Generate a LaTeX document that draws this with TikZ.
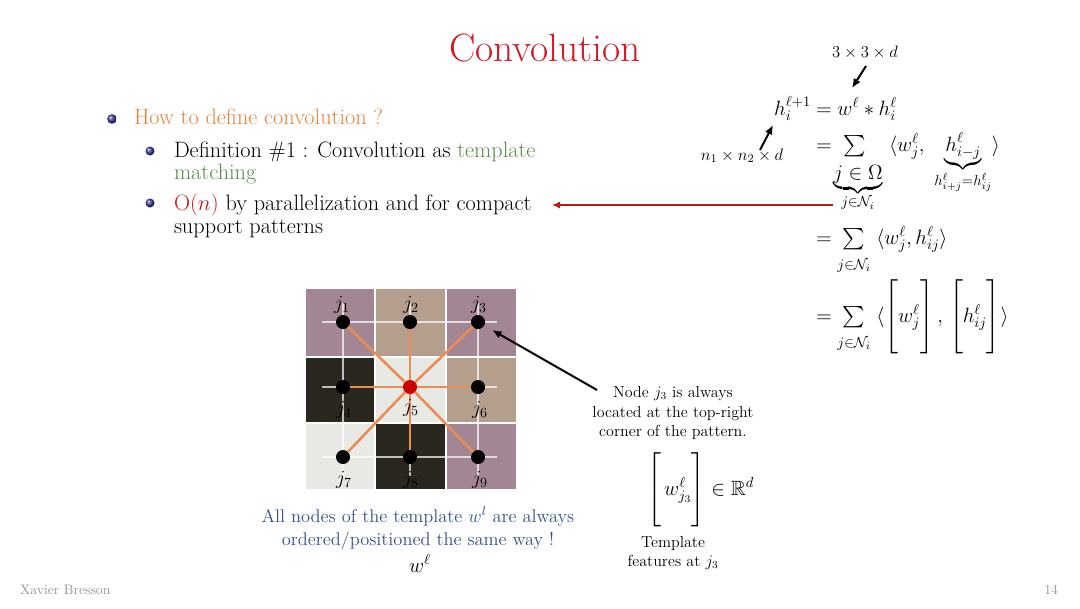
\RequirePackage{fix-cm}
\documentclass[tikz,border=0pt]{standalone}
\usepackage{amsmath,amssymb}
\DeclareFontFamily{OMX}{cmexs}{}
\DeclareFontShape{OMX}{cmexs}{m}{n}{<->cmex10}{}
\newcommand{\SumSym}{\mathop{\vcenter{\hbox{\fontsize{16}{16}\usefont{OMX}{cmexs}{m}{n}\char"50}}}}
\newcommand{\bstrut}{\rule[-25.1pt]{0pt}{58pt}}
\newcommand{\substrut}{\rule{0pt}{12.5pt}}
\usetikzlibrary{arrows.meta}
\definecolor{titlered}{RGB}{205,30,40}
\definecolor{howorange}{RGB}{230,132,62}
\definecolor{tgreen}{RGB}{88,140,72}
\definecolor{ored}{RGB}{195,25,30}
\definecolor{arrowred}{RGB}{185,25,25}
\definecolor{bluetext}{RGB}{50,80,140}
\definecolor{ballblue}{RGB}{65,65,165}
\definecolor{mauvecell}{RGB}{163,134,148}
\definecolor{tancell}{RGB}{180,158,142}
\definecolor{darkcell}{RGB}{42,40,30}
\definecolor{lightcell}{RGB}{232,232,228}
\definecolor{spokeorange}{RGB}{236,140,85}
\definecolor{nodered}{RGB}{205,0,0}
\definecolor{footgray}{RGB}{150,150,150}
\begin{document}
\begin{tikzpicture}[x=0.75pt,y=-0.75pt,
  every node/.style={inner sep=0pt,outer sep=0pt},
  titletxt/.style={font=\fontsize{29.6}{33}\selectfont,text=titlered,anchor=base},
  bodytxt/.style={font=\fontsize{16.7}{20}\selectfont,anchor=base west},
  eqn/.style={font=\fontsize{15.5}{18}\selectfont},
  smallmath/.style={font=\fontsize{12.5}{15}\selectfont,anchor=base},
  captxt/.style={font=\fontsize{12}{14}\selectfont,anchor=base},
  bluetxt/.style={font=\fontsize{13.8}{16}\selectfont,text=bluetext,anchor=base},
  jlab/.style={font=\fontsize{15}{18}\selectfont},
  gnode/.style={circle,fill=black,minimum size=10.5pt},
  cnode/.style={circle,fill=nodered,minimum size=10.5pt},
  spoke/.style={draw=spokeorange,line width=1.9pt},
  blackarrow/.style={line width=1.5pt,-{Latex[length=7pt,width=6pt]}},
  redarrow/.style={draw=arrowred,line width=1.8pt,-{Latex[length=6pt,width=5.5pt]}},
  cellbox/.style={draw=white,line width=1.2pt},
  nodeline/.style={draw=white,draw opacity=0.7,line width=1.1pt},
  footer/.style={font=\fontsize{10.3}{12}\selectfont,text=footgray}
]
\useasboundingbox[fill=white] (0,0) rectangle (1080,608);

% title
\node[titletxt] (title) at (545,61) {Convolution};

% bullets
\shade[ball color=ballblue] (112,119) circle[radius=4.8];
\shade[ball color=ballblue] (150,151) circle[radius=4.5];
\shade[ball color=ballblue] (150,203) circle[radius=4.5];
\node[bodytxt,text=howorange] (b1) at (134,124) {How to define convolution ?};
\node[bodytxt] (b2a) at (174,157) {Definition \#1 : Convolution as \textcolor{tgreen}{template}};
\node[bodytxt,text=tgreen] (b2b) at (174,179) {matching};
\node[bodytxt] (b3a) at (174,210) {\textcolor{ored}{O($n$)} by parallelization and for compact};
\node[bodytxt] (b3b) at (174,233) {support patterns};

% red arrow
\coordinate (rs) at (833,205);
\coordinate (re) at (552,205);
\draw[redarrow] (rs) -- (re);

% equations
\node[smallmath] (dimw) at (865,57) {$3\times 3\times d$};
\node[smallmath] (dimh) at (742,160) {$n_1\times n_2\times d$};
\node[eqn,anchor=base east] (lhs) at (811,115) {$h_i^{\ell+1}$};
\node[eqn,anchor=base west] (eq1) at (816,115) {$= w^\ell * h_i^\ell$};
% line 2
\node[eqn,anchor=base west] (eq2eq) at (816,151) {$=$};
\node[eqn] (sig2) at (855,146) {$\SumSym$};
\node[eqn,anchor=base] (om2) at (858,179) {$\underbrace{j\in\Omega}_{j\in\mathcal{N}_i}$};
\node[eqn,anchor=base west] (eq2b) at (889,151) {$\langle w_j^\ell,\ \underbrace{h_{i-j}^\ell}_{h_{i+j}^\ell=h_{ij}^\ell}\rangle$};
% lines 3 and 4
\node[eqn,anchor=base west] (eq3) at (816,244) {$= \SumSym\limits_{\substrut j\in\mathcal{N}_i}\; \langle w_j^\ell, h_{ij}^\ell\rangle$};
\node[eqn,anchor=base west] (eq4) at (816,322) {$= \SumSym\limits_{\substrut j\in\mathcal{N}_i}\; \langle \left[\bstrut w_j^\ell\right],\hspace{2pt}\left[\bstrut h_{ij}^\ell\right] \rangle$};
\coordinate (a1s) at (866,66);
\coordinate (a1e) at (852,88);
\draw[blackarrow] (a1s) -- (a1e);
\coordinate (a2s) at (760,150);
\coordinate (a2e) at (773,125);
\draw[blackarrow] (a2s) -- (a2e);

% grid image
\fill[gray!20] (305,288) rectangle (517,490);
\filldraw[cellbox,fill=mauvecell] (305,288) rectangle (375,357);
\filldraw[cellbox,fill=tancell] (375,288) rectangle (446,357);
\filldraw[cellbox,fill=mauvecell] (446,288) rectangle (517,357);
\filldraw[cellbox,fill=darkcell] (305,357) rectangle (375,423);
\filldraw[cellbox,fill=lightcell] (375,357) rectangle (446,423);
\filldraw[cellbox,fill=tancell] (446,357) rectangle (517,423);
\filldraw[cellbox,fill=lightcell] (305,423) rectangle (375,490);
\filldraw[cellbox,fill=darkcell] (375,423) rectangle (446,490);
\filldraw[cellbox,fill=mauvecell] (446,423) rectangle (517,490);
\draw[nodeline] (322,322) -- (497,322);
\draw[nodeline] (322,387) -- (497,387);
\draw[nodeline] (322,457) -- (497,457);
\draw[nodeline] (343,303) -- (343,476);
\draw[nodeline] (410,303) -- (410,476);
\draw[nodeline] (478,303) -- (478,476);

\node[gnode] (n1) at (343,322) {};
\node[gnode] (n2) at (410,322) {};
\node[gnode] (n3) at (478,322) {};
\node[gnode] (n4) at (343,387) {};
\node[cnode] (n5) at (410,387) {};
\node[gnode] (n6) at (478,387) {};
\node[gnode] (n7) at (343,457) {};
\node[gnode] (n8) at (410,457) {};
\node[gnode] (n9) at (478,457) {};
\foreach \k in {1,2,3,4,6,7,8,9} \draw[spoke] (n5) -- (n\k);

\node[jlab] (l1) at (342,305) {$j_1$};
\node[jlab] (l2) at (411,305) {$j_2$};
\node[jlab] (l3) at (479,305) {$j_3$};
\node[jlab] (l4) at (344,410) {$j_4$};
\node[jlab] (l5) at (411,408) {$j_5$};
\node[jlab] (l6) at (480,410) {$j_6$};
\node[jlab] (l7) at (344,480) {$j_7$};
\node[jlab] (l8) at (411,480) {$j_8$};
\node[jlab] (l9) at (480,480) {$j_9$};

% j3 arrow and caption
\coordinate (ja) at (597,390);
\draw[blackarrow,shorten >=7pt] (ja) -- (n3);
\node[captxt] (cap1) at (673,397) {Node $j_3$ is always};
\node[captxt] (cap2) at (673,417) {located at the top-right};
\node[captxt] (cap3) at (673,436) {corner of the pattern.};

% template vector
\node[eqn,anchor=base west] (wmat) at (647,495) {$\left[\bstrut\, w_{j_3}^\ell\right] \in \mathbb{R}^d$};
\node[captxt] (tf1) at (673,547) {Template};
\node[captxt] (tf2) at (673,566) {features at $j_3$};

% blue text
\node[bluetxt] (bl1) at (418,522) {All nodes of the template $w^l$ are always};
\node[bluetxt] (bl2) at (418,545) {ordered/positioned the same way !};
\node[eqn,anchor=base] (wl) at (420,572) {$w^\ell$};

% footer
\node[footer,anchor=base west] (auth) at (20,594) {Xavier Bresson};
\node[footer,anchor=base east] (pg) at (1058,594) {14};
\end{tikzpicture}
\end{document}
